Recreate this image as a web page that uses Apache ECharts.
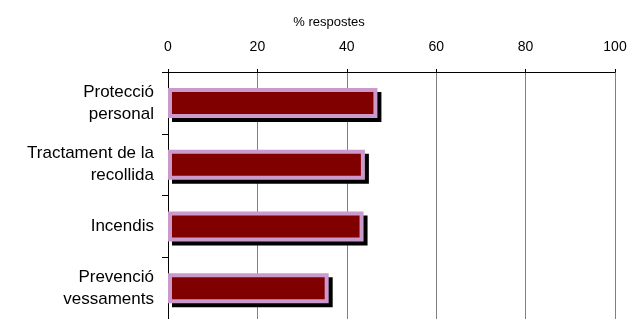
<!DOCTYPE html>
<html>
<head>
<meta charset="utf-8">
<script src="https://cdn.jsdelivr.net/npm/echarts@6/dist/echarts.min.js"></script>
<style>
html,body{margin:0;padding:0;background:#fff;}
#c{width:631px;height:319px;}
</style>
</head>
<body>
<div id="c"></div>
<script>
var categories = ['Protecció\npersonal', 'Tractament de la\nrecollida', 'Incendis', 'Prevenció\nvessaments'];
var values = [46.4, 43.6, 43.3, 35.5];
var axisName = '% respostes';

var FONT = 'Liberation Sans, Arial, sans-serif';
var seriesData = values.map(function (v, i) { return [v, i]; });

var chart = echarts.init(document.getElementById('c'), null, {renderer: 'canvas'});
chart.setOption({
  animation: false,
  backgroundColor: '#ffffff',
  textStyle: {fontFamily: FONT},
  title: {
    text: axisName,
    left: 324,
    top: 11,
    textAlign: 'center',
    textStyle: {fontSize: 13, fontWeight: 'normal', color: '#000', fontFamily: FONT}
  },
  grid: {left: 168, top: 72, width: 447, height: 253, containLabel: false},
  xAxis: {
    type: 'value',
    position: 'top',
    min: 0, max: 100, interval: 20,
    axisLine: {show: true, lineStyle: {color: '#000', width: 1}},
    axisTick: {show: true, length: 3, lineStyle: {color: '#000'}},
    axisLabel: {color: '#000', fontSize: 14, margin: 18, fontFamily: FONT},
    splitLine: {show: true, lineStyle: {color: '#808080', width: 1}}
  },
  yAxis: {
    type: 'category',
    data: categories,
    inverse: true,
    axisLine: {show: true, lineStyle: {color: '#000', width: 1}},
    axisTick: {show: true, length: 6, lineStyle: {color: '#000'}},
    axisLabel: {color: '#000', fontSize: 17, margin: 14, lineHeight: 22, align: 'right', fontFamily: FONT},
    splitLine: {show: false}
  },
  series: [{
    type: 'custom',
    data: seriesData,
    encode: {x: 0, y: 1},
    renderItem: function (params, api) {
      var idx = api.value(1);
      var start = api.coord([0, idx]);
      var end = api.coord([api.value(0), idx]);
      var h = 26;
      var x0 = start[0] + 2;
      var w = end[0] - x0;
      var y0 = start[1] - h / 2;
      return {
        type: 'group',
        children: [
          {type: 'rect', shape: {x: x0 - 2 + 4, y: y0 - 2 + 4, width: w + 4, height: h + 4}, style: {fill: '#000000'}},
          {type: 'rect', shape: {x: x0, y: y0, width: w, height: h}, style: {fill: '#800000', stroke: '#CC99CC', lineWidth: 4}}
        ]
      };
    }
  }]
});
</script>
</body>
</html>
